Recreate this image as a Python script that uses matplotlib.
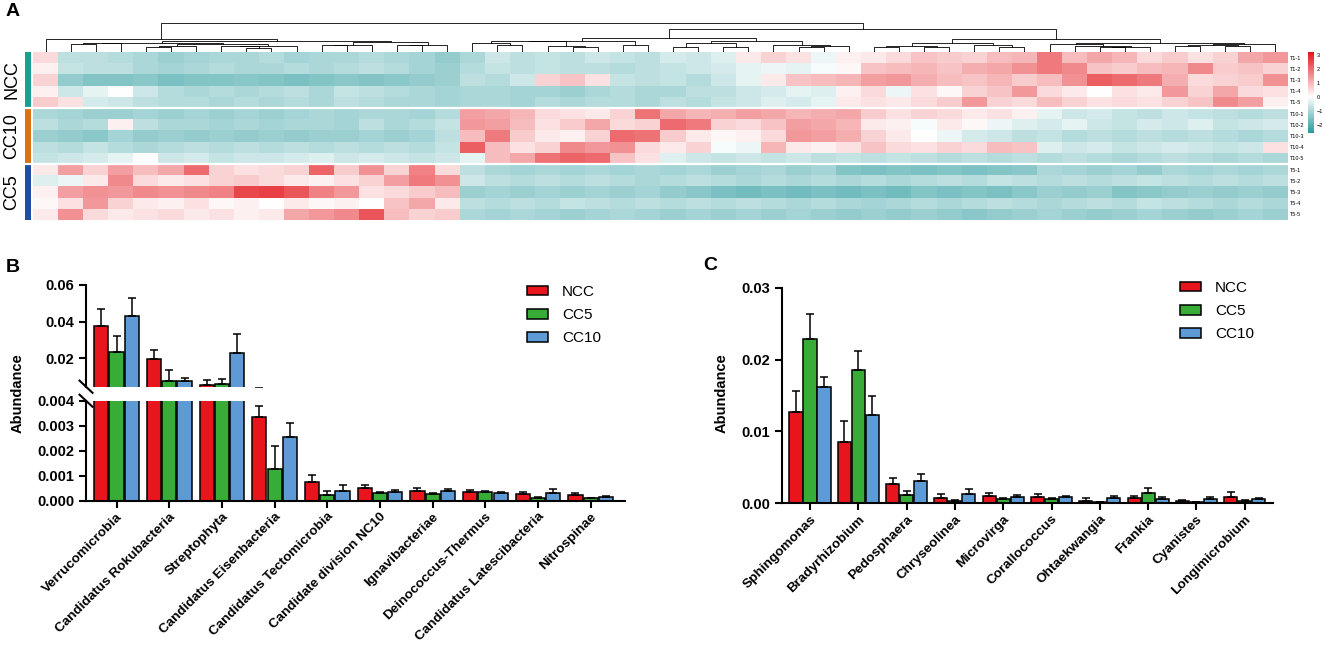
import numpy as np
import matplotlib.pyplot as plt
from matplotlib.colors import LinearSegmentedColormap, ListedColormap
from matplotlib.patches import Patch

plt.rcParams['font.family'] = ['Liberation Sans', 'DejaVu Sans']

W, H = 1325, 646

# ---------------- panel A: z-scores, coarse column blocks
samples = ['T1-1', 'T1-2', 'T1-3', 'T1-4', 'T1-5',
           'T10-1', 'T10-2', 'T10-3', 'T10-4', 'T10-5',
           'T5-1', 'T5-2', 'T5-3', 'T5-4', 'T5-5']
groups = ['NCC', 'CC10', 'CC5']
group_colors = ['#19A08F', '#DC7115', '#1E4FA3']

t1_1 = [0.5, -0.8, -0.8, -0.9, -1.0, -1.2, -1.1, -1.0, -1.0, -0.9, -1.1, -1.0, -1.0, -0.9, -1.0, -1.1, -1.3,
        -1.0, -0.6, -0.8, -0.7, -0.8, -0.6, -0.7, -0.8, -0.5, -0.6, -0.4, 0.3, 0.6, 0.4, -0.2, 0.2,
        0.3, 0.5, 0.8, 0.7, 0.6, 0.9, 1.0, 1.8, 0.9, 1.2, 1.0, 0.5, 0.7, 0.4, 0.6, 1.2, 1.4]
t1_2 = [0.2, -0.7, -0.8, -0.8, -1.0, -1.1, -1.0, -0.9, -1.0, -1.0, -0.9, -1.0, -0.9, -0.8, -0.9, -1.1, -1.2,
        -0.9, -0.7, -0.8, -0.7, -0.8, -0.8, -0.9, -0.8, -0.7, -0.6, -0.5, -0.3, -0.2, -0.3, -0.1, 0.1,
        0.8, 0.9, 1.0, 0.8, 1.1, 1.2, 1.5, 1.8, 1.6, 0.8, 0.7, 0.9, 1.0, 1.6, 0.7, 0.8, 0.6]
t1_3 = [0.6, -1.3, -1.5, -1.5, -1.4, -1.6, -1.5, -1.5, -1.4, -1.5, -1.6, -1.5, -1.4, -1.5, -1.4, -1.3, -1.2,
        -0.8, -0.9, -0.6, 0.6, 0.8, 0.4, -0.7, -0.8, -0.7, -0.9, -0.6, -0.3, 0.3, 0.8, 0.9, 1.0,
        1.3, 1.4, 1.1, 0.9, 0.8, 1.0, 0.7, 0.9, 1.5, 2.2, 2.0, 1.8, 1.1, 0.5, 0.6, 0.7, 1.5]
t1_4 = [0.2, -0.6, -0.3, 0.0, -0.6, -0.9, -1.0, -0.9, -1.0, -0.9, -0.8, -1.0, -0.7, -0.8, -0.9, -1.0, -1.1,
        -1.0, -1.0, -1.1, -1.1, -1.2, -1.0, -0.9, -1.0, -1.0, -0.8, -0.8, -0.6, -0.5, -0.3, -0.4, 0.2,
        0.5, -0.2, 0.4, 0.1, 0.6, 0.8, 1.4, 0.5, 0.3, 0.0, 0.4, 0.3, 1.4, 0.6, 1.2, 0.5, 0.4]
t1_5 = [0.7, 0.4, -0.5, -0.6, -0.8, -0.9, -0.9, -1.0, -0.9, -1.0, -0.9, -1.0, -0.8, -0.9, -1.0, -1.0, -1.1,
        -1.0, -1.0, -1.1, -0.9, -1.0, -0.9, -0.9, -1.0, -0.8, -0.9, -0.7, -0.6, -0.4, -0.5, -0.3, 0.3,
        0.4, 0.3, 0.5, 0.7, 1.4, 0.6, 0.5, 0.9, 0.6, 0.4, 0.5, 0.4, 0.6, 0.8, 1.6, 1.3, 0.2]
t10_1 = [-1.0, -1.1, -1.2, -1.2, -1.1, -1.2, -1.1, -1.2, -1.1, -1.2, -1.1, -1.0, -1.1, -1.0, -1.0, -1.1, -0.9,
         1.3, 1.2, 1.0, 0.5, 0.4, 0.3, 0.6, 1.9, 1.2, 1.0, 1.1, 1.3, 1.2, 1.0, 1.1, 1.2,
         0.7, 0.4, 0.6, 0.5, 0.3, 0.4, 0.2, -0.3, -0.6, -0.5, -0.7, -0.8, -0.6, -0.7, -0.8, -0.9, -0.8]
t10_2 = [-0.8, -1.0, -0.9, 0.2, -0.8, -1.0, -1.0, -1.1, -1.0, -1.1, -1.0, -1.0, -1.1, -0.8, -1.0, -0.9, -0.7,
         1.4, 1.3, 0.9, 0.4, 0.7, 1.2, 0.5, 0.6, 2.0, 1.8, 0.6, 0.5, 0.8, 1.3, 1.2, 1.0,
         0.3, 0.2, -0.1, 0.3, 0.1, -0.2, -0.4, -0.5, -0.3, -0.6, -0.7, -0.5, -0.6, -0.4, -0.7, -0.6, -0.5]
t10_3 = [-1.2, -1.3, -1.4, -1.1, -1.3, -1.2, -1.3, -1.2, -1.3, -1.2, -1.3, -1.2, -1.2, -1.1, -1.2, -1.1, -0.8,
         0.9, 1.8, 0.7, 0.3, 0.2, 0.6, 2.0, 1.9, 0.7, 0.3, 0.1, 0.2, 0.5, 1.4, 1.3, 1.1,
         0.6, 0.3, 0.0, -0.2, -0.5, -0.6, -0.8, -0.7, -0.9, -0.8, -0.9, -0.8, -0.9, -0.8, -0.9, -1.0, -0.9]
t10_4 = [-0.8, -0.9, -0.7, -0.9, -1.0, -0.9, -0.8, -0.9, -0.8, -0.9, -0.8, -0.9, -0.8, -0.9, -0.8, -0.9, -0.7,
         2.2, 0.9, 0.4, 0.6, 1.6, 1.4, 1.5, 0.5, 0.3, 0.6, -0.1, -0.2, 1.0, 0.3, 0.2, 0.4,
         0.8, 0.5, 0.4, 0.6, 0.5, 0.9, 0.8, -0.4, -0.6, -0.5, -0.7, -0.6, -0.5, -0.6, -0.7, -0.6, 0.4]
t10_5 = [-0.7, -0.6, -0.5, -0.3, 0.0, -0.6, -0.5, -0.7, -0.6, -0.6, -0.5, -0.4, -0.6, -0.5, -0.6, -0.7, -0.6,
         -0.3, 0.9, 1.2, 1.9, 2.1, 2.0, 0.8, 0.4, -0.4, -0.6, -0.7, -0.6, -0.7, -0.6, -0.8, -0.7,
         -0.8, -0.7, -0.8, -0.9, -0.8, -0.9, -0.8, -0.9, -0.8, -0.9, -1.0, -0.9, -0.8, -0.9, -1.0, -0.9, -1.0]
t5_1 = [0.3, 1.3, 0.6, 1.3, 0.9, 1.2, 2.0, 0.6, 0.4, 0.5, 0.6, 2.1, 0.7, 1.5, 0.6, 1.7, 0.5,
        -0.8, -1.0, -1.1, -1.0, -1.1, -1.0, -1.1, -1.0, -1.1, -1.0, -1.2, -1.1, -1.0, -1.2, -1.1, -1.5,
        -1.6, -1.5, -1.6, -1.5, -1.6, -1.5, -1.4, -1.0, -1.1, -1.2, -1.1, -1.3, -1.0, -1.1, -1.0, -1.1, -1.0]
t5_2 = [-0.4, -0.2, 0.3, 1.6, 0.5, 0.3, 0.4, 0.6, 0.7, 0.5, 0.3, 0.2, 0.4, 0.6, 1.3, 1.8, 1.5,
        -0.6, -0.8, -0.9, -0.8, -0.9, -0.8, -0.9, -1.0, -0.9, -0.8, -0.9, -1.0, -0.9, -1.0, -0.9, -1.0,
        -0.9, -1.0, -0.9, -0.8, -0.9, -0.7, -0.8, -0.9, -0.8, -0.9, -0.8, -0.7, -0.8, -0.9, -0.8, -0.9, -0.8]
t5_3 = [0.2, 1.3, 1.5, 1.4, 1.6, 1.5, 1.6, 1.7, 2.5, 2.6, 2.3, 1.7, 1.4, 0.4, 0.5, 0.7, 0.9,
        -1.2, -1.1, -1.2, -1.1, -1.2, -1.1, -1.2, -1.1, -1.3, -1.4, -1.6, -1.7, -1.6, -1.7, -1.6, -1.7,
        -1.6, -1.7, -1.5, -1.6, -1.5, -1.6, -1.4, -1.2, -1.3, -1.2, -1.5, -1.4, -1.3, -1.2, -1.3, -1.2, -1.3]
t5_4 = [0.1, 0.4, 1.4, 0.6, 0.3, 0.2, 0.4, 0.1, 0.2, 0.0, 0.3, 0.1, 0.2, 0.0, 0.8, 1.2, 0.3,
        -0.8, -0.9, -0.8, -0.9, -0.7, -0.8, -0.9, -0.8, -0.9, -0.8, -0.9, -0.8, -0.9, -1.0, -0.9, -1.0,
        -1.1, -1.0, -0.9, -1.0, -0.9, -0.8, -0.9, -1.0, -0.9, -0.8, -0.9, -0.7, -0.8, -0.9, -1.0, -0.9, -1.0]
t5_5 = [0.3, 1.5, 0.5, 0.3, 0.4, 0.5, 0.3, 0.4, 0.2, 0.3, 1.2, 1.4, 1.6, 2.3, 0.9, 0.6, 0.7,
        -1.0, -1.1, -1.0, -1.1, -1.2, -1.1, -1.0, -1.1, -1.2, -1.1, -1.2, -1.1, -1.2, -1.1, -1.2, -1.3,
        -1.2, -1.3, -1.2, -1.3, -1.4, -1.3, -1.2, -1.1, -1.2, -1.3, -1.2, -1.1, -1.2, -1.3, -1.2, -1.1, -1.2]

# ---------------- panel B: phyla
phyla = ['Verrucomicrobia', 'Candidatus Rokubacteria', 'Streptophyta', 'Candidatus Eisenbacteria',
         'Candidatus Tectomicrobia', 'Candidate division NC10', 'Ignavibacteriae',
         'Deinococcus-Thermus', 'Candidatus Latescibacteria', 'Nitrospinae']
phyla_ncc = [0.0376, 0.0196, 0.0054, 0.00336, 0.00077, 0.00051, 0.00041, 0.00035, 0.00029, 0.00024]
phyla_ncc_sd = [0.0093, 0.0051, 0.0028, 0.00044, 0.00027, 0.00013, 0.00012, 0.00008, 0.00007, 0.00008]
phyla_cc5 = [0.0236, 0.0078, 0.0058, 0.00126, 0.00023, 0.00031, 0.00026, 0.00035, 0.00013, 0.00010]
phyla_cc5_sd = [0.0086, 0.0057, 0.0029, 0.00093, 0.00015, 0.00006, 0.00006, 0.00003, 0.00004, 0.00002]
phyla_cc10 = [0.0430, 0.0078, 0.0229, 0.00256, 0.00040, 0.00037, 0.00039, 0.00030, 0.00033, 0.00014]
phyla_cc10_sd = [0.0097, 0.0016, 0.0102, 0.00057, 0.00024, 0.00008, 0.00008, 0.00004, 0.00016, 0.00005]

# ---------------- panel C: genera
genera = ['Sphingomonas', 'Bradyrhizobium', 'Pedosphaera', 'Chryseolinea', 'Microvirga',
          'Corallococcus', 'Ohtaekwangia', 'Frankia', 'Cyanistes', 'Longimicrobium']
genus_ncc = [0.01264, 0.00856, 0.00264, 0.00070, 0.00100, 0.00093, 0.00037, 0.00069, 0.00032, 0.00093]
genus_ncc_sd = [0.0030, 0.0029, 0.0009, 0.0006, 0.0004, 0.0003, 0.0003, 0.0003, 0.00014, 0.0006]
genus_cc5 = [0.0228, 0.0186, 0.00115, 0.00030, 0.00058, 0.00056, 0.00014, 0.00139, 0.00014, 0.00037]
genus_cc5_sd = [0.0035, 0.0026, 0.0006, 0.0002, 0.00012, 0.00023, 0.0, 0.0007, 0.0, 0.00009]
genus_cc10 = [0.0162, 0.0123, 0.00305, 0.00129, 0.00086, 0.00083, 0.00069, 0.00060, 0.00060, 0.00060]
genus_cc10_sd = [0.0014, 0.0027, 0.0010, 0.00065, 0.00025, 0.00023, 0.00033, 0.00028, 0.00028, 0.00009]

series_names = ['NCC', 'CC5', 'CC10']
bar_colors = ['#E8161C', '#37AC37', '#5E9BD6']


def rect(x0, y0, x1, y1):
    return [x0 / W, 1 - y1 / H, (x1 - x0) / W, (y1 - y0) / H]


def dendrogram(ax, data):
    # neighbour-joining of columns (Ward distance), keeps the column order
    nodes = [(i + 0.5, 0.0, data[:, i].copy(), 1) for i in range(data.shape[1])]
    top = 0
    while len(nodes) > 1:
        best, bi = None, 0
        for k in range(len(nodes) - 1):
            a, b = nodes[k], nodes[k + 1]
            d = np.sqrt(2 * a[3] * b[3] / (a[3] + b[3])) * np.linalg.norm(a[2] - b[2])
            if best is None or d < best:
                best, bi = d, k
        a, b = nodes[bi], nodes[bi + 1]
        h = max(np.sqrt(best), a[1], b[1])
        ax.plot([a[0], a[0], b[0], b[0]], [a[1], h, h, b[1]], color='black', lw=0.6)
        n = a[3] + b[3]
        nodes[bi:bi + 2] = [((a[0] + b[0]) / 2, h, (a[2] * a[3] + b[2] * b[3]) / n, n)]
        top = h
    return top


fig = plt.figure(figsize=(W / 100, H / 100), dpi=100)

heat = np.array([t1_1, t1_2, t1_3, t1_4, t1_5, t10_1, t10_2, t10_3, t10_4, t10_5,
                 t5_1, t5_2, t5_3, t5_4, t5_5])
ncol = heat.shape[1]
cmap = LinearSegmentedColormap.from_list('tw', [(0, '#2A9A9C'), (2.6 / 5.8, '#FFFFFF'), (1, '#E3151B')])

ax_h = fig.add_axes(rect(33, 52, 1288, 220))
im = ax_h.imshow(heat, cmap=cmap, vmin=-2.6, vmax=3.2, aspect='auto',
                 interpolation='nearest', extent=(0, ncol, 15, 0))
for yb in (5, 10):
    ax_h.axhline(yb, color='white', lw=1.6)
for s in ax_h.spines.values():
    s.set_visible(False)
ax_h.set_xticks([])
ax_h.yaxis.tick_right()
ax_h.set_yticks(np.arange(15) + 0.5)
ax_h.set_yticklabels(samples, fontsize=4)
ax_h.tick_params(axis='y', length=0, pad=1.5)

ax_d = fig.add_axes(rect(33, 22, 1288, 52))
top = dendrogram(ax_d, heat)
ax_d.set_xlim(0, ncol)
ax_d.set_ylim(0, top * 1.02)
ax_d.axis('off')

ax_g = fig.add_axes(rect(25, 52, 31, 220))
codes = np.repeat(np.arange(3), 5)[:, None]
ax_g.imshow(codes, cmap=ListedColormap(group_colors), vmin=-0.5, vmax=2.5,
            aspect='auto', interpolation='nearest', extent=(0, 1, 15, 0))
for yb in (5, 10):
    ax_g.axhline(yb, color='white', lw=1.6)
ax_g.axis('off')
for g, name in enumerate(groups):
    ax_g.text(-2.2, 2.5 + 5 * g, name, rotation=90, ha='center', va='center', fontsize=13)

cax = fig.add_axes(rect(1308, 52, 1314, 133))
cb = fig.colorbar(im, cax=cax, ticks=[3, 2, 1, 0, -1, -2])
cb.outline.set_visible(False)
cax.tick_params(labelsize=4, length=0, pad=2)

# ---------------- bar panels
x = np.arange(10)
offsets = [-0.29, 0.0, 0.29]
bw = 0.27
lw = 1.1


def style(ax):
    for side in ('left', 'bottom', 'top', 'right'):
        ax.spines[side].set_linewidth(1.5)
    ax.spines['right'].set_visible(False)
    ax.tick_params(direction='out', width=1.5, length=5)
    ax.tick_params(axis='y', labelsize=10.5)
    ax.tick_params(axis='x', labelsize=9.7, pad=2)
    for lab in ax.get_yticklabels():
        lab.set_fontweight('bold')


def draw_bars(ax, series, sds):
    for k in range(3):
        ax.bar(x + offsets[k], series[k], width=bw, color=bar_colors[k],
               edgecolor='black', linewidth=lw, zorder=2)
        ax.errorbar(x + offsets[k], series[k], yerr=[np.zeros(10), sds[k]], fmt='none',
                    ecolor='black', elinewidth=lw, capsize=3, capthick=lw, zorder=3)


b_series = [phyla_ncc, phyla_cc5, phyla_cc10]
b_sds = [phyla_ncc_sd, phyla_cc5_sd, phyla_cc10_sd]
axb_top = fig.add_axes(rect(86, 285, 625, 386.7))
axb_bot = fig.add_axes(rect(86, 400.7, 625, 501))
for ax in (axb_top, axb_bot):
    draw_bars(ax, b_series, b_sds)
    ax.set_xlim(-0.58, 9.65)
axb_top.set_ylim(0.0045, 0.06)
axb_top.set_yticks([0.02, 0.04, 0.06])
axb_top.set_yticklabels(['0.02', '0.04', '0.06'])
axb_top.spines['bottom'].set_visible(False)
axb_top.spines['top'].set_visible(False)
axb_top.set_xticks([])
axb_bot.set_ylim(0, 0.004)
axb_bot.set_yticks([0, 0.001, 0.002, 0.003, 0.004])
axb_bot.set_yticklabels(['0.000', '0.001', '0.002', '0.003', '0.004'])
axb_bot.spines['top'].set_visible(False)
axb_bot.set_xticks(x)
axb_bot.set_xticklabels(phyla, rotation=45, ha='right', va='top', rotation_mode='anchor',
                        fontweight='bold')
style(axb_top)
style(axb_bot)
axb_top.tick_params(axis='x', length=0)
# axis break marks
for ax, yy in ((axb_top, 0.0), (axb_bot, 1.0)):
    ax.plot([-0.012, 0.012], [yy + 0.06, yy - 0.06], transform=ax.transAxes,
            color='black', lw=1.5, clip_on=False)

handles = [Patch(facecolor=c, edgecolor='black', linewidth=lw) for c in bar_colors]
axb_top.legend(handles, series_names, loc='upper left', bbox_to_anchor=(527 / W, 1 - 285 / H),
               bbox_transform=fig.transFigure, frameon=False, fontsize=11, handlelength=1.4,
               handleheight=0.6, handletextpad=0.9, labelspacing=0.6, borderpad=0, borderaxespad=0)

c_series = [genus_ncc, genus_cc5, genus_cc10]
c_sds = [genus_ncc_sd, genus_cc5_sd, genus_cc10_sd]
axc = fig.add_axes(rect(781.7, 287.7, 1273.3, 503.3))
draw_bars(axc, c_series, c_sds)
axc.set_xlim(-0.586, 9.59)
axc.set_ylim(0, 0.03)
axc.set_yticks([0, 0.01, 0.02, 0.03])
axc.set_yticklabels(['0.00', '0.01', '0.02', '0.03'])
axc.spines['top'].set_visible(False)
axc.set_xticks(x)
axc.set_xticklabels(genera, rotation=45, ha='right', va='top', rotation_mode='anchor',
                    fontweight='bold')
style(axc)
axc.legend(handles, series_names, loc='upper left', bbox_to_anchor=(1180 / W, 1 - 281 / H),
           bbox_transform=fig.transFigure, frameon=False, fontsize=11, handlelength=1.4,
           handleheight=0.6, handletextpad=0.9, labelspacing=0.6, borderpad=0, borderaxespad=0)

fig.text(18 / W, 1 - 393 / H, 'Abundance', rotation=90, ha='center', va='center',
         fontsize=10.5, fontweight='bold')
fig.text(722 / W, 1 - 393 / H, 'Abundance', rotation=90, ha='center', va='center',
         fontsize=10.5, fontweight='bold')
fig.text(13 / W, 1 - 12 / H, 'A', ha='center', va='center', fontsize=14, fontweight='bold')
fig.text(13 / W, 1 - 267 / H, 'B', ha='center', va='center', fontsize=14, fontweight='bold')
fig.text(710 / W, 1 - 266 / H, 'C', ha='center', va='center', fontsize=14, fontweight='bold')

fig.savefig('out.png', dpi=100)
